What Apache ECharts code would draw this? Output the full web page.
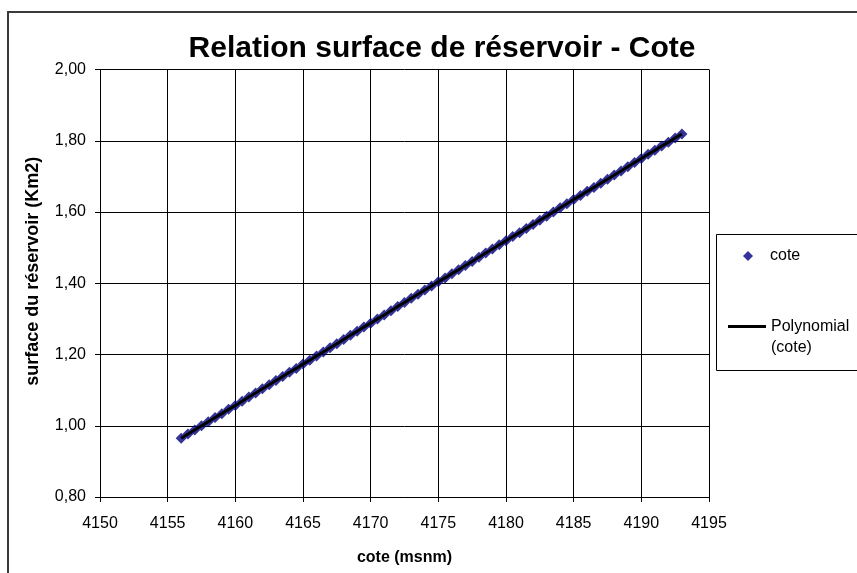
<!DOCTYPE html>
<html>
<head>
<meta charset="utf-8">
<script src="https://cdn.jsdelivr.net/npm/echarts@6/dist/echarts.min.js"></script>
<style>
  html, body { margin: 0; padding: 0; background: #fff; }
  #chart { width: 857px; height: 573px; }
</style>
</head>
<body>
<div id="chart"></div>
<script>
// cote (msnm) relevée tous les 0,5 m
const cote = [
  4156.0, 4156.5, 4157.0, 4157.5, 4158.0, 4158.5, 4159.0, 4159.5, 4160.0, 4160.5,
  4161.0, 4161.5, 4162.0, 4162.5, 4163.0, 4163.5, 4164.0, 4164.5, 4165.0, 4165.5,
  4166.0, 4166.5, 4167.0, 4167.5, 4168.0, 4168.5, 4169.0, 4169.5, 4170.0, 4170.5,
  4171.0, 4171.5, 4172.0, 4172.5, 4173.0, 4173.5, 4174.0, 4174.5, 4175.0, 4175.5,
  4176.0, 4176.5, 4177.0, 4177.5, 4178.0, 4178.5, 4179.0, 4179.5, 4180.0, 4180.5,
  4181.0, 4181.5, 4182.0, 4182.5, 4183.0, 4183.5, 4184.0, 4184.5, 4185.0, 4185.5,
  4186.0, 4186.5, 4187.0, 4187.5, 4188.0, 4188.5, 4189.0, 4189.5, 4190.0, 4190.5,
  4191.0, 4191.5, 4192.0, 4192.5, 4193.0
];
// surface du réservoir (Km2)
const surface = [
  0.965, 0.977, 0.988, 1.000, 1.011, 1.023, 1.034, 1.046, 1.057, 1.069,
  1.081, 1.092, 1.104, 1.115, 1.127, 1.138, 1.150, 1.161, 1.173, 1.184,
  1.196, 1.207, 1.219, 1.230, 1.242, 1.254, 1.265, 1.277, 1.288, 1.300,
  1.311, 1.323, 1.335, 1.346, 1.358, 1.369, 1.381, 1.392, 1.404, 1.415,
  1.427, 1.438, 1.450, 1.461, 1.473, 1.485, 1.496, 1.508, 1.519, 1.531,
  1.542, 1.554, 1.565, 1.577, 1.588, 1.600, 1.612, 1.623, 1.635, 1.646,
  1.658, 1.669, 1.681, 1.692, 1.704, 1.715, 1.727, 1.739, 1.750, 1.762,
  1.773, 1.785, 1.796, 1.808, 1.819
];
const xTicks = { min: 4150, max: 4195, step: 5 };
const yTicks = { min: 0.8, max: 2.0, step: 0.2 };

const points = cote.map((c, i) => [c, surface[i]]);
const font = 'Arial, "Liberation Sans", sans-serif';

let myChart = echarts.init(document.getElementById('chart'));
myChart.setOption({
  animation: false,
  backgroundColor: '#fff',
  textStyle: { fontFamily: font },
  title: {
    text: 'Relation surface de réservoir - Cote',
    left: 437, top: 29, textAlign: 'center',
    textStyle: { fontSize: 30, fontWeight: 'bold', color: '#000', fontFamily: font }
  },
  graphic: [
    // cadre du graphique
    { type: 'rect', shape: { x: 8, y: 12, width: 900, height: 620 },
      style: { fill: 'none', stroke: '#3a3a3a', lineWidth: 2 }, silent: true },
    // cadre de la légende
    { type: 'rect', shape: { x: 716.5, y: 234.5, width: 200, height: 136 },
      style: { fill: 'none', stroke: '#000', lineWidth: 1 }, silent: true }
  ],
  legend: [
    {
      data: [{ name: 'cote', icon: 'diamond' }],
      formatter: '{a|{name}}',
      left: 743, top: 248, padding: 0,
      itemWidth: 10, itemHeight: 10, itemGap: 0,
      textStyle: { fontSize: 16, color: '#000', fontFamily: font,
        rich: { a: { fontSize: 16, color: '#000', fontFamily: font, padding: [0, 0, 0, 12] } } },
      selectedMode: false
    },
    {
      // ligne vide en tête pour aligner "Polynomial" sur le trait
      data: [{ name: 'Polynomial (cote)', icon: 'path://M0,0 L38,0 L38,3 L0,3 Z' }],
      formatter: () => '\nPolynomial\n(cote)',
      left: 728, top: 295, padding: 0,
      itemWidth: 38, itemHeight: 10, itemGap: 0,
      textStyle: { fontSize: 16, lineHeight: 21, color: '#000', fontFamily: font },
      selectedMode: false
    }
  ],
  grid: { left: 100, right: 148, top: 69.5, bottom: 76, containLabel: false },
  xAxis: {
    type: 'value',
    min: xTicks.min, max: xTicks.max, interval: xTicks.step,
    name: 'cote (msnm)', nameLocation: 'middle', nameGap: 53,
    nameTextStyle: { fontSize: 16, fontWeight: 'bold', color: '#000', fontFamily: font },
    axisLine: { show: true, lineStyle: { color: '#000', width: 1 } },
    axisTick: { show: true, inside: false, length: 5, lineStyle: { color: '#000' } },
    axisLabel: { fontSize: 16, color: '#000', margin: 19, fontFamily: font,
      formatter: v => String(v) },
    splitLine: { show: true, lineStyle: { color: '#000', width: 1 } }
  },
  yAxis: {
    type: 'value',
    min: yTicks.min, max: yTicks.max, interval: yTicks.step,
    name: 'surface du réservoir (Km2)', nameLocation: 'middle', nameGap: 58,
    nameTextStyle: { fontSize: 18, fontWeight: 'bold', color: '#000', fontFamily: font,
      padding: [0, 0, 0, 24] },
    axisLine: { show: true, lineStyle: { color: '#000', width: 1 } },
    axisTick: { show: true, inside: false, length: 5, lineStyle: { color: '#000' } },
    axisLabel: { fontSize: 16, color: '#000', margin: 14, fontFamily: font,
      formatter: v => v.toFixed(2).replace('.', ',') },
    splitLine: { show: true, lineStyle: { color: '#000', width: 1 } }
  },
  series: [
    {
      name: 'cote',
      type: 'scatter',
      data: points,
      symbol: 'diamond',
      symbolSize: 11,
      itemStyle: { color: '#000080' }
    },
    {
      name: 'Polynomial (cote)',
      type: 'line',
      data: points,
      showSymbol: false,
      smooth: false,
      lineStyle: { color: '#000', width: 3 },
      itemStyle: { color: '#000' }
    }
  ]
});
</script>
</body>
</html>
